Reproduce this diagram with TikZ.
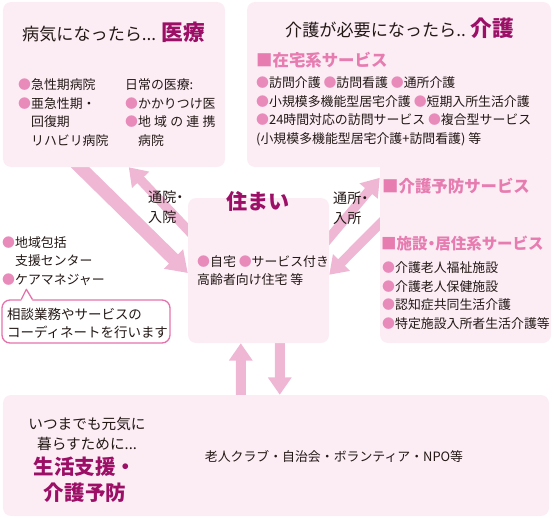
\documentclass[tikz,border=0pt]{standalone}
\usepackage{fontspec}
\setmainfont{Noto Sans CJK JP}
\usepackage{xcolor}
\usepackage{tikz}
\usetikzlibrary{arrows.meta,calc}

\definecolor{boxpink}{HTML}{FCEDF5}
\definecolor{arrowpink}{HTML}{F0B7D5}
\definecolor{titlemag}{HTML}{9C0F66}
\definecolor{headpink}{HTML}{E67CB0}
\definecolor{bulpink}{HTML}{E88BBB}
\definecolor{linepink}{HTML}{E573AB}
\definecolor{inkgray}{HTML}{231815}

\newcommand{\bul}{\textcolor{bulpink}{●}}
\newcommand{\ndot}{\makebox[0.5em]{・}}

\pgfdeclarelayer{background}
\pgfsetlayers{background,main}

\begin{document}
\begin{tikzpicture}[x=0.3mm, y=-0.3mm,
    box/.style={fill=boxpink, rounded corners=2.4mm, inner sep=0pt},
    callout/.style={draw=linepink, line width=0.4mm, fill=white, rounded corners=2.4mm, inner sep=0pt},
    body/.style={anchor=west, align=left, inner sep=0pt, text=inkgray, font=\fontsize{11}{15.8}\selectfont},
    boxtitle/.style={anchor=west, inner sep=0pt, text=inkgray, font=\fontsize{14.6}{16}\selectfont},
    keyword/.style={inner sep=0pt, text=titlemag, font=\fontsize{18}{20}\selectfont\bfseries},
    header/.style={anchor=west, inner sep=0pt, text=headpink, font=\fontsize{14}{16}\selectfont\bfseries},
    flowlabel/.style={anchor=west, align=left, inner sep=0pt, text=inkgray, font=\fontsize{12}{17}\selectfont},
    fatarrow/.style={draw=arrowpink, line width=3mm, -{Triangle[width=6.8mm, length=5.2mm]}},
]
    \useasboundingbox (0,0) rectangle (554,517);

    % boxes
    \node[box, minimum width=66.6mm, minimum height=49.5mm] (iryo) at (114,84.5) {};
    \node[box, minimum width=91.2mm, minimum height=49.5mm] (kaigo) at (399,84.5) {};
    \node[box, minimum width=51.3mm, minimum height=57.9mm] (shisetsu) at (465.5,246.5) {};
    \node[box, minimum width=42.3mm, minimum height=43.5mm] (sumai) at (258.5,270.5) {};
    \node[box, minimum width=163.8mm, minimum height=36.3mm] (seikatsu) at (276,455.5) {};
    \node[callout, minimum width=50.4mm, minimum height=12.9mm] (soudan) at (86,321.5) {};

    % callout pointer
    \coordinate (ptip) at ($(soudan.north west)+(25,-10)$);
    \fill[white] ($(soudan.north west)+(20,1.5)$) -- (ptip) -- ($(soudan.north west)+(31,1.5)$) -- cycle;
    \draw[linepink, line width=0.4mm, line join=round] ($(soudan.north west)+(20,0)$) -- (ptip) -- ($(soudan.north west)+(31,0)$);

    % 医療
    \node[boxtitle] (iryo-t) at (22,32) {病気になったら... \textcolor{titlemag}{\fontsize{18.5}{20}\selectfont\bfseries 医療}};
    \node[body] (iryo-a) at (18,112.5) {\bul 急性期病院\\\bul 亜急性期・\\\phantom{\bul}回復期\\\phantom{\bul}リハビリ病院};
    \node[body] (iryo-b) at (125,112.5) {日常の医療:\\\bul かかりつけ医\\\bul 地\hspace{0.25em}域\hspace{0.25em}の\hspace{0.25em}連\hspace{0.25em}携\\\phantom{\bul}病院};

    % 介護
    \node[boxtitle] (kaigo-t) at (285,28) {介護が必要になったら.. \textcolor{titlemag}{\fontsize{18.5}{20}\selectfont\bfseries 介護}};
    \node[header] (zaitaku) at (256,60) {■在宅系サービス};
    \node[body] (zaitaku-l) at (256,111.5) {\bul 訪問介護 \bul 訪問看護 \bul 通所介護\\
        \bul 小規模多機能型居宅介護 \bul 短期入所生活介護\\
        \bul 24時間対応の訪問サービス \bul 複合型サービス\\
        (小規模多機能型居宅介護+訪問看護) 等};

    % 介護予防・施設
    \node[header] (yobou) at (382,186) {■介護予防サービス};
    \node[header, font=\fontsize{13.2}{16}\selectfont\bfseries] (kyoju) at (381,244) {■施設\ndot 居住系サービス};
    \node[body] (kyoju-l) at (382,295.5) {\bul 介護老人福祉施設\\\bul 介護老人保健施設\\\bul 認知症共同生活介護\\\bul 特定施設入所者生活介護等};

    % 住まい
    \node[keyword] (sumai-t) at (258,201) {住まい};
    \node[body] (sumai-l) at (197,270.5) {\bul 自宅 \bul サービス付き\\高齢者向け住宅 等};

    % 地域包括
    \node[body] (houkatsu) at (2,261) {\bul 地域包括\\\phantom{\bul}支援センター\\\bul ケアマネジャー};
    \node[body, font=\fontsize{11.5}{16}\selectfont] (soudan-t) at (7,323.5) {相談業務やサービスの\\コーディネートを行います};

    % arrow labels
    \node[flowlabel] (tsuuin) at (148,207) {通院\ndot\\入院};
    \node[flowlabel] (tsuusho) at (333,208) {通所\ndot\\入所};

    % 生活支援
    \node[inner sep=0pt, align=center, text=inkgray, font=\fontsize{12.5}{17}\selectfont] (genki) at (87,434) {いつまでも元気に\\暮らすために...};
    \node[keyword, align=center, font=\fontsize{17.5}{22}\selectfont\bfseries] (shien) at (85,480) {生活支援・\\介護予防};
    \node[inner sep=0pt, text=inkgray, font=\fontsize{11}{13}\selectfont] (kyoryoku) at (334,457) {老人クラブ・自治会・ボランティア・NPO等};

    % arrows behind the boxes
    \begin{pgfonlayer}{background}
        \draw[fatarrow, line width=3.9mm, -{Triangle[width=7.8mm, length=6mm]}] ($(iryo.south west)+(60,-17)$) -- ($(sumai.west)+(0,2.5)$);
        \draw[fatarrow, line width=2.8mm] ($(sumai.north west)+(15,48)$) -- ($(iryo.south west)+(126,0)$);
        \draw[fatarrow, line width=2.8mm] ($(sumai.north east)+(-15,58)$) -- ($(shisetsu.north west)+(0,28)$);
        \draw[fatarrow, line width=2.8mm] ($(shisetsu.north west)+(15,59)$) -- ($(sumai.north east)+(0,77)$);
        \draw[fatarrow] ($(seikatsu.north west)+(238,10)$) -- ($(sumai.south west)+(53,0)$);
        \draw[fatarrow] ($(sumai.south west)+(92,-10)$) -- ($(seikatsu.north west)+(277,0)$);
    \end{pgfonlayer}
\end{tikzpicture}
\end{document}
